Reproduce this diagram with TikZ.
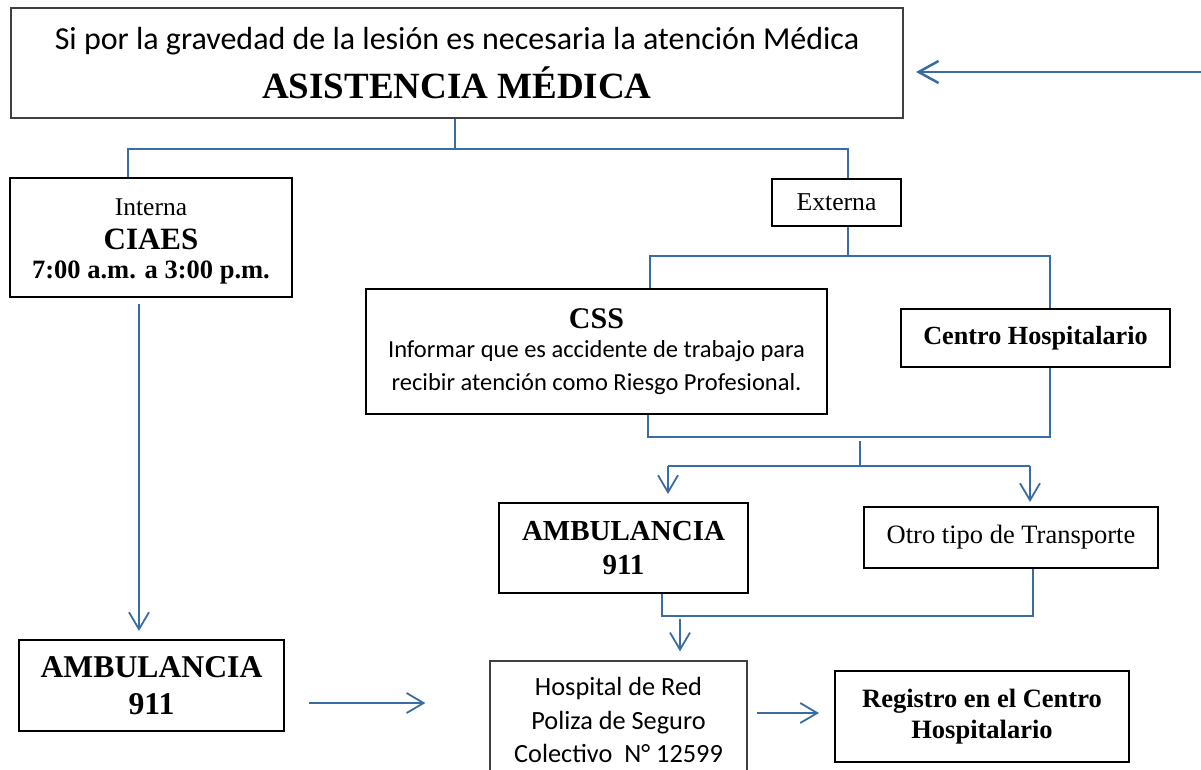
\documentclass[tikz,border=0pt]{standalone}
\usepackage{fontspec}
\setmainfont{Liberation Serif}
\newfontfamily\calibri{Carlito}
\usepackage{xcolor}
\usepackage{tikz}
\usetikzlibrary{arrows.meta}

\definecolor{linkblue}{RGB}{58,108,164}
\newcommand{\fs}[2]{\fontsize{#1pt}{#2pt}\selectfont}

\begin{document}
\begin{tikzpicture}[x=1pt, y=-1pt,
	box/.style={draw, line width=2pt, align=center, inner sep=0pt},
	link/.style={draw=linkblue, line width=2.5pt},
	flow/.style={draw=linkblue, line width=1.8pt, -{Straight Barb[length=17pt, width=20pt]}}]

	\useasboundingbox (0,0) rectangle (1201,769);

	\begin{scope}
		\node[box, draw=black!75, minimum width=892pt, minimum height=110pt, font=\calibri\fs{32}{48.5}] (top) at (457,63)
			{Si por la gravedad de la lesión es necesaria la atención Médica\\
			{\rmfamily\bfseries\fs{37}{48.5}ASISTENCIA MÉDICA}};
		\node[box, minimum width=282pt, minimum height=119pt, font=\fs{25.5}{31}] (interna) at (151,237.5)
			{\rule{0pt}{24pt}Interna\\[3pt] {\bfseries\fs{31}{31}CIAES}\\[-2pt] {\bfseries\fs{26.5}{31}7:00 a.m. a 3:00 p.m.}};
		\node[box, minimum width=129pt, minimum height=47pt, font=\fs{25.7}{30}] (externa) at (836.5,202.5) {Externa};
	\end{scope}

	\begin{scope}
		\node[box, minimum width=461pt, minimum height=125pt, font=\calibri\fs{24.5}{33}] (css) at (596.5,351.5)
			{{\rmfamily\bfseries\fs{30}{33}CSS}\\[-4pt]
			Informar que es accidente de trabajo para\\
			recibir atención como Riesgo Profesional.};
		\node[box, minimum width=269pt, minimum height=58pt, font=\bfseries\fs{26.2}{31}] (centro) at (1035.5,338) {Centro Hospitalario};
		\node[box, minimum width=249pt, minimum height=90pt, font=\bfseries\fs{29}{34}] (ambB) at (623.5,548) {AMBULANCIA\\911};
		\node[box, minimum width=294pt, minimum height=61pt, font=\fs{26.5}{30}] (otro) at (1011,537.5) {Otro tipo de Transporte};
	\end{scope}

	\begin{scope}
		\node[box, minimum width=265pt, minimum height=91pt, font=\bfseries\fs{31.7}{37}] (ambA) at (151.5,685.5) {AMBULANCIA\\911};
		\node[box, draw=black!75, line width=1.3pt, minimum width=257pt, minimum height=118pt, font=\calibri\fs{26.3}{33.5}] (hosp) at (618.5,720)
			{Hospital de Red\\Poliza de Seguro\\Colectivo\ \ N° 12599};
		\node[box, minimum width=294pt, minimum height=91pt, font=\bfseries\fs{26.5}{31}] (reg) at (982,716.5)
			{Registro en el Centro\\Hospitalario};
	\end{scope}

	% ramas
	\draw[link] ([xshift=-2pt]top.south) -- ++(0,30) coordinate (sA);
	\draw[link] ([xshift=-23pt]interna.north) |- (sA) -| ([xshift=11.5pt]externa.north);
	\draw[link] ([xshift=11.5pt]externa.south) -- ++(0,29) coordinate (sB);
	\draw[link] ([xshift=53.5pt]css.north) |- (sB) -| ([xshift=14.5pt]centro.north);
	\draw[link] ([xshift=51.5pt]css.south) -- ++(0,22) coordinate (mA) -| ([xshift=14.5pt]centro.south);

	\coordinate (sC) at (860,466);
	\coordinate (cL) at (668,466);
	\coordinate (cR) at (1030,466);
	\draw[link] (sC) -- ++(0,-25);
	\draw[link] (cL) -- (cR);
	\draw[flow] (cL) -- ([xshift=44.5pt, yshift=8pt]ambB.north);
	\draw[flow] (cR) -- ([xshift=19pt, yshift=4pt]otro.north);

	\draw[link] ([xshift=38.5pt]ambB.south) -- ++(0,22) coordinate (mB) -| ([xshift=22pt]otro.south);
	\draw[flow] (mB) ++(18,3) -- ([xshift=61.5pt, yshift=9pt]hosp.north);

	% flechas
	\draw[flow] ([xshift=-12pt, yshift=-6pt]interna.south) -- ([xshift=-12.5pt, yshift=8pt]ambA.north);
	\draw[flow] ([xshift=24pt, yshift=-17.5pt]ambA.east) -- ([xshift=-64pt, yshift=17pt]hosp.west);
	\draw[flow] ([xshift=9pt, yshift=7pt]hosp.east) -- ([xshift=-15pt, yshift=3.5pt]reg.west);

	\coordinate (back) at (1201,72);
	\draw[flow, line width=2.5pt, -{Straight Barb[length=20pt, width=22pt]}] (back) -- ([xshift=12pt, yshift=-9pt]top.east);
\end{tikzpicture}
\end{document}
